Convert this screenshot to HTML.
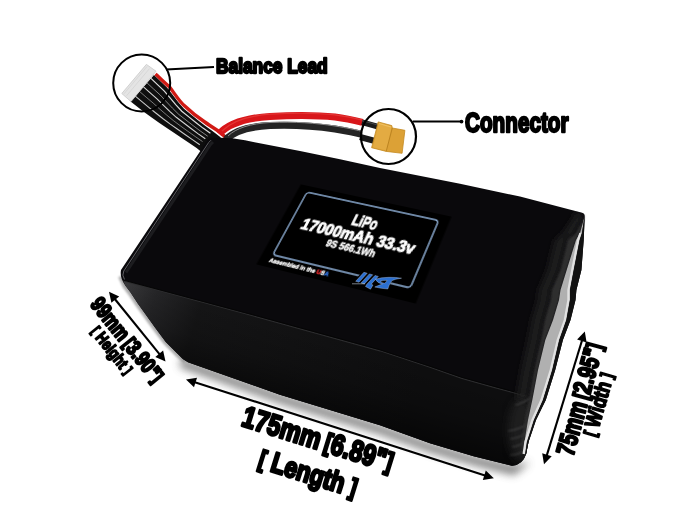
<!DOCTYPE html>
<html><head><meta charset="utf-8"><style>
html,body{margin:0;padding:0;background:#fff;width:686px;height:511px;overflow:hidden;}
#wrap{position:relative;width:686px;height:511px;}
svg{position:absolute;left:0;top:0;display:block;}
.lbl{position:absolute;left:0;top:0;width:140px;height:72px;transform-origin:0 0;font-family:"Liberation Sans",sans-serif;font-weight:bold;color:#fff;}
</style></head><body><div id="wrap">
<svg width="686" height="511" viewBox="0 0 686 511">
<defs>
<filter id="blur4" x="-20%" y="-20%" width="140%" height="140%"><feGaussianBlur stdDeviation="4"/></filter>
<filter id="blur3" x="-50%" y="-20%" width="200%" height="140%"><feGaussianBlur stdDeviation="3"/></filter>
<filter id="blur1" x="-20%" y="-20%" width="140%" height="140%"><feGaussianBlur stdDeviation="1"/></filter>
<linearGradient id="gB" x1="125" y1="290" x2="420" y2="375" gradientUnits="userSpaceOnUse">
<stop offset="0" stop-color="#38383a"/><stop offset="0.1" stop-color="#252527"/><stop offset="0.25" stop-color="#151516"/><stop offset="1" stop-color="#0e0e0f"/>
</linearGradient>
<linearGradient id="gL" x1="0" y1="0" x2="1" y2="0"><stop offset="0" stop-color="#8a8a8a"/><stop offset="0.6" stop-color="#c8c8c8"/><stop offset="1" stop-color="#e4e4e4"/></linearGradient>
<clipPath id="clipSil"><path d="M212,138 Q228,137 245,140.2 L254.5,142.3 L300,151 L340,159.2 L380,168 L460,183.8 L520,196.6 L582,212.8 Q585.5,213.6 584.6,219 L584.0,233.0 L583.7,240.0 L581.4,270.0 L576.4,290.0 L575.5,300.0 L570.5,320.0 L562.9,340.0 L555.2,370.0 L545.8,400.0 L536.0,420.0 L528.5,442.0 L526.2,454.0 Q522.5,465 512,465.8 L473.7,456.3 L430,443.2 L380,425.2 L280,394.7 L188,362.2 Q182.5,359.5 178.1,354.2 L165.8,341.9 L155.2,327.8 L146.4,315.5 L137.6,303.2 L130.6,292.6 L125.3,285.6 Q119.5,277.5 121,270 L207,141 Q209,137 212,138 Z"/></clipPath>
<linearGradient id="gBv" x1="300" y1="333" x2="281" y2="398" gradientUnits="userSpaceOnUse"><stop offset="0" stop-color="#000" stop-opacity="0"/><stop offset="0.5" stop-color="#000" stop-opacity="0.15"/><stop offset="1" stop-color="#000" stop-opacity="0.5"/></linearGradient>
</defs>
<!-- shadow -->
<path d="M180,367 L280,403 L380,434 L430,452 L474,465 L514,475 L530,462 L512,465 L474,456 L430,443 L380,425 L280,394 L181,358 Z" fill="#666" filter="url(#blur4)" opacity="0.85"/>

<path d="M121,276 L125.3,285.6 L130.6,292.6 L137.6,303.2 L146.4,315.5 L155.2,327.8 L165.8,341.9 L178.1,354.2 L186,361" fill="none" stroke="#8a8a8a" stroke-width="6" filter="url(#blur1)" opacity="0.7"/>
<!-- balance lead wires -->
<path d="M154.0,75.0 L160.5,81.3 L167.0,87.6 L172.6,94.7 L178.1,101.9 L184.0,108.7 L191.0,114.5 L198.0,120.2 L205.1,125.8 L212.4,131.1 L219.6,136.6 L226.0,143.0 L210.0,160.0 L203.6,153.7 L196.6,148.1 L189.2,143.0 L181.7,138.0 L174.3,133.0 L166.8,127.9 L159.4,122.9 L152.0,117.8 L144.7,112.6 L137.6,107.1 L130.6,101.4 Z" fill="#0e0e0e"/>
<g fill="none" stroke="#e8e8e8">
<path d="M151.0,78.4 L157.5,84.6 L164.1,90.8 L169.9,97.7 L175.7,104.6 L181.8,111.2 L188.8,116.9 L195.8,122.5 L203.0,128.1 L210.4,133.3" stroke-opacity="0.95" stroke-width="1.2"/>
<path d="M147.0,82.9 L153.6,89.0 L160.3,95.1 L166.4,101.7 L172.5,108.2 L178.9,114.5 L186.0,120.0 L193.1,125.6 L200.3,131.0 L207.7,136.2" stroke-opacity="0.6" stroke-width="0.9"/>
<path d="M143.5,86.9 L150.2,92.9 L157.0,98.8 L163.3,105.1 L169.7,111.3 L176.3,117.3 L183.5,122.8 L190.7,128.2 L197.9,133.6 L205.3,138.7" stroke-opacity="0.9" stroke-width="1.1"/>
<path d="M139.5,91.4 L146.3,97.3 L153.2,103.1 L159.8,109.1 L166.5,114.9 L173.4,120.6 L180.6,126.0 L187.9,131.3 L195.2,136.5 L202.6,141.6" stroke-opacity="0.55" stroke-width="0.9"/>
<path d="M135.3,96.1 L142.2,101.9 L149.1,107.6 L156.1,113.2 L163.1,118.7 L170.3,124.1 L177.6,129.3 L185.0,134.5 L192.4,139.6 L199.8,144.7" stroke-opacity="0.85" stroke-width="1.1"/>
</g>
<path d="M155.5,74 C161,79 166,84 169.2,86.5 C175,94 179,101 184.2,105.5 C191,112 198,117.5 204.8,122 C211,126.5 217,130 221.2,133 L228,140" fill="none" stroke="#d01a14" stroke-width="3.4"/>
<!-- plug -->
<polygon points="121.8,93.5 146.4,64.4 156,71.2 131,101.6" fill="#e4e4e4" stroke="#c8c8c8" stroke-width="0.8"/>
<path d="M124,93.8 L147,66.6 M126.5,95.8 L149.5,68.6" stroke="#cfcfcf" stroke-width="0.6" fill="none"/>

<!-- power wires -->
<path d="M219,134 C228,124 245,118 270,116.4 C295,115 315,114.8 335,117 C347,118.5 355,120.5 362.5,122.4" fill="none" stroke="#d8161a" stroke-width="7"/>
<path d="M222,131 C231,122 247,116 270,114.2 C295,112.8 315,112.6 335,114.8 C347,116.3 355,118.3 362.5,120.2" fill="none" stroke="#ec4a44" stroke-width="1.2" stroke-opacity="0.6"/>
<path d="M226,139.5 C234,131 250,126.5 270,125.5 C295,124.5 315,126 335,129 C347,131 355,132.5 361,134.2" fill="none" stroke="#242424" stroke-width="7"/>
<path d="M228,136 C236,128 251,123.5 270,122.5 C295,121.5 315,123 335,126 C347,128 355,129.5 361,131.2" fill="none" stroke="#8a8a8a" stroke-width="1"/>

<!-- battery silhouette -->
<path id="sil" d="M212,138 Q228,137 245,140.2 L254.5,142.3 L300,151 L340,159.2 L380,168 L460,183.8 L520,196.6 L582,212.8 Q585.5,213.6 584.6,219 L584.0,233.0 L583.7,240.0 L581.4,270.0 L576.4,290.0 L575.5,300.0 L570.5,320.0 L562.9,340.0 L555.2,370.0 L545.8,400.0 L536.0,420.0 L528.5,442.0 L526.2,454.0 Q522.5,465 512,465.8 L473.7,456.3 L430,443.2 L380,425.2 L280,394.7 L188,362.2 Q182.5,359.5 178.1,354.2 L165.8,341.9 L155.2,327.8 L146.4,315.5 L137.6,303.2 L130.6,292.6 L125.3,285.6 Q119.5,277.5 121,270 L207,141 Q209,137 212,138 Z" fill="#0a090c"/>
<!-- left edge rim highlight -->
<path d="M211,140.2 L208.6,142.6 L123.8,271 Q121.6,275 124.5,279.5" fill="none" stroke="#606064" stroke-width="1"/>
<path d="M213,142 L210.5,144.5 L126,272.5" fill="none" stroke="#1c1c1f" stroke-width="3"/>
<!-- face B (front) -->
<path d="M123,280 L250,314 L380,349.8 L430,366.2 L462,377.4 L494,386.3 L526.2,395.1 L529,397 L528.5,442 L526,454 Q522.5,465 512,465.8 L473.7,456.3 L430,443.2 L380,425.2 L280,394.7 L188,362.2 Q182.5,359.5 178.1,354.2 L165.8,341.9 L155.2,327.8 L146.4,315.5 L137.6,303.2 L130.6,292.6 L125.3,285.6 Z" fill="url(#gB)"/>
<path d="M123,280 L250,314 L380,349.8 L430,366.2 L462,377.4 L494,386.3 L526.2,395.1 L529,397 L528.5,442 L526,454 Q522.5,465 512,465.8 L473.7,456.3 L430,443.2 L380,425.2 L280,394.7 L188,362.2 Q182.5,359.5 178.1,354.2 L165.8,341.9 L155.2,327.8 L146.4,315.5 L137.6,303.2 L130.6,292.6 L125.3,285.6 Z" fill="url(#gBv)"/>
<path d="M123.5,281 L250,315 L380,350.8 L430,367.2 L462,378.4 L494,387.3 L526.2,396.1" fill="none" stroke="#2c2c2e" stroke-width="1.2"/>
<path d="M123,280 L250,314 L380,349.8 L430,366.2 L462,377.4 L494,386.3 L526.2,395.1" fill="none" stroke="#050505" stroke-width="1"/>
<g clip-path="url(#clipSil)"><polygon points="584.0,214.0 582.4,219.0 575.0,233.0 566.7,240.0 559.3,270.0 550.7,290.0 549.5,300.0 543.7,320.0 539.9,340.0 533.2,370.0 527.8,400.0 515.8,400.0 521.2,370.0 527.9,340.0 531.7,320.0 537.5,300.0 538.7,290.0 547.3,270.0 554.7,240.0 563.0,233.0 573.0,218.0 575.0,212.0" fill="#1a1a1c" filter="url(#blur3)"/></g>
<g clip-path="url(#clipSil)">
<ellipse cx="522" cy="430" rx="14" ry="32" fill="#2a2a2a" opacity="0.6" filter="url(#blur4)"/>
<g fill="none" stroke="#6a6a6a" stroke-width="1.2" opacity="0.55" filter="url(#blur1)">
<path d="M508,431 Q518,430 528,424"/>
<path d="M510,439 Q519,438 527,433"/>
<path d="M512,447 Q520,446 526,441"/>
<path d="M510,455 Q518,455 524,451"/>
<path d="M515,405 Q522,404 530,398"/>
</g>
</g>
<!-- end face bands -->
<polygon points="585.0,214.0 583.4,219.0 576.0,233.0 567.7,240.0 560.3,270.0 551.7,290.0 550.5,300.0 544.7,320.0 540.9,340.0 534.2,370.0 528.8,400.0 525.0,420.0 521.5,442.0 522.2,454.0 523.7,454.0 524.5,442.0 528.0,420.0 532.3,400.0 538.0,370.0 545.3,340.0 553.0,320.0 559.0,300.0 560.5,290.0 566.7,270.0 576.0,240.0 580.0,233.0 583.9,219.0 585.0,214.0" fill="#2e2e2f" filter="url(#blur1)"/>
<polygon points="585.0,214.0 583.9,219.0 580.0,233.0 576.0,240.0 566.7,270.0 560.5,290.0 559.0,300.0 553.0,320.0 545.3,340.0 538.0,370.0 532.3,400.0 528.0,420.0 524.5,442.0 523.7,454.0 525.2,454.0 527.0,442.0 534.0,420.0 543.0,400.0 552.3,370.0 559.3,340.0 566.4,320.0 570.0,300.0 570.0,290.0 573.8,270.0 579.7,240.0 582.0,233.0 584.2,219.0 585.0,214.0" fill="#b0b0b0"/>
<polyline points="580.4,233.0 578.1,240.0 572.2,270.0 568.4,290.0 568.4,300.0 564.8,320.0 557.7,340.0 550.7,370.0 541.4,400.0 532.4,420.0 525.4,442.0 523.6,454.0" fill="none" stroke="#e2e2e2" stroke-width="2.2"/>
<polygon points="585.0,214.0 584.2,219.0 582.0,233.0 579.7,240.0 573.8,270.0 570.0,290.0 570.0,300.0 566.4,320.0 559.3,340.0 552.3,370.0 543.0,400.0 534.0,420.0 527.0,442.0 525.2,454.0 526.2,454.0 528.5,442.0 536.0,420.0 545.8,400.0 555.2,370.0 562.9,340.0 570.5,320.0 575.5,300.0 576.4,290.0 581.4,270.0 583.7,240.0 584.0,233.0 584.6,219.0 585.0,214.0" fill="#121212"/>
</svg>

<div class="lbl" style="transform:matrix3d(0.798414,0.131334,0.000000,-0.000324,-0.674288,0.685924,0.000000,-0.000726,0.000000,0.000000,1.000000,0.000000,307.000000,192.100000,0.000000,1.000000)">
<svg width="140" height="72" viewBox="0 0 140 72" style="overflow:visible;position:absolute;left:0;top:0;font-family:'Liberation Sans',sans-serif;font-weight:bold;">
<rect x="-10.5" y="-7" width="161" height="92" fill="#000"/>
<rect x="0" y="0" width="140" height="72" rx="3.5" fill="none" stroke="#93b4dc" stroke-width="1.4"/>
<g fill="#fff" stroke="#fff" stroke-linejoin="round">
<text transform="translate(58.8,24) scale(0.7,1)" font-size="17" stroke-width="1.1">LiPo</text>
<text transform="translate(12,39.8) scale(0.885,1)" font-size="17" stroke-width="1.1">17000mAh 33.3v</text>
<text transform="translate(44.8,51.2) scale(0.85,1)" font-size="10.6" stroke-width="0.6">9S 566.1Wh</text>
<text transform="translate(-0.3,79.6) scale(0.5,0.5)" font-size="11.6" stroke-width="0.9"><tspan>Assembled in the </tspan><tspan fill="#e8262a" stroke="#e8262a">U</tspan><tspan>S</tspan><tspan fill="#2f6fd8" stroke="#2f6fd8">A</tspan></text>
</g>
</svg>
</div>

<svg width="686" height="511" viewBox="0 0 686 511" style="font-family:'Liberation Sans',sans-serif;font-weight:bold;">
<!-- logo -->
<g stroke="#000" stroke-width="2.2" stroke-linejoin="round" fill="#000">
<path d="M353,283.5 L364,271.8 L403,277 L397,279.5 L390,281.5 L386.5,289 L375,288.5 L360,284.5 Z"/>
</g>
<g fill="#2b6fd0" stroke="#b8c4d8" stroke-width="0.4" stroke-linejoin="round">
<polygon points="355.7,281.3 363.9,272.3 367.2,273.2 359,282.2"/>
<polygon points="361.1,283 369.4,273.9 372.7,274.8 364.4,283.9"/>
<polygon points="366.6,284.6 375,275.5 378.3,276.4 371.2,284.2 373,285 370.5,289.2 365.5,286.5"/>
<path d="M375.2,279.2 Q381,277.4 389,277.3 Q396,277.2 401.5,278.2 Q395,279 392,280.6 Q390.5,283 389.2,285 L387.8,289 Q381,288.5 374.8,287 Q379,285.2 382.5,284 Q378,283.6 375.2,279.2 Z M380.4,281.2 Q383,280.2 387,280.4 Q386,282.5 384.5,283.3 Q381.5,283 380.4,281.2 Z" fill-rule="evenodd"/>
</g>
<line x1="352" y1="283.8" x2="365" y2="283.8" stroke="#c8d0dc" stroke-width="0.6"/>
<!-- XT60 -->
<path d="M362,122.2 L380,127.2" stroke="#1a1a1a" stroke-width="5.6"/>
<path d="M360,137 L375,141" stroke="#1a1a1a" stroke-width="6.4"/>
<path d="M362,120.6 L380,125.6" stroke="#555" stroke-width="0.8"/>
<path d="M378.2,121.9 L391.8,125.6 L392.3,128 L404.9,130.3 L402.1,153.3 L386.2,151.4 L371.6,147.7 Z" fill="#dca136" stroke="#c48a22" stroke-width="0.8"/>
<path d="M379,123 L391.5,126.5 L386.5,150.5 L373,147.2 Z" fill="#e3ab42"/>
<path d="M392.3,128 L386.2,151.4" stroke="#b8801e" stroke-width="0.9"/>
<path d="M379,123.5 L391,127" stroke="#f0c060" stroke-width="1.2"/>

<!-- callout circles -->
<circle cx="141.7" cy="83" r="28.5" fill="none" stroke="#000" stroke-width="2"/>
<line x1="166" y1="69.4" x2="214" y2="67" stroke="#000" stroke-width="2"/>
<circle cx="388.5" cy="136.5" r="27.5" fill="none" stroke="#000" stroke-width="2.2"/>
<line x1="413" y1="121.6" x2="462" y2="121.6" stroke="#000" stroke-width="2"/>
<circle cx="461.5" cy="121.6" r="1.9" fill="#000"/>
<text x="216" y="73.4" font-size="20.5" transform="translate(216,0) scale(0.845,1) translate(-216,0)" stroke="#000" stroke-width="2.3" stroke-linejoin="round">Balance Lead</text>
<text x="465" y="132" font-size="28" transform="translate(465,0) scale(0.74,1) translate(-465,0)" stroke="#000" stroke-width="2.4" stroke-linejoin="round">Connector</text>

<!-- arrows -->
<g stroke="#000" stroke-width="2.1">
<line x1="112.8" y1="296.5" x2="161.7" y2="356.8"/>
<line x1="191.7" y1="381.2" x2="488.1" y2="476.4"/>
<line x1="583.0" y1="337.2" x2="545.8" y2="458.6"/>
</g>
<g fill="#000">
<polygon points="109.0,291.8 111.4,302.7 119.2,296.4"/>
<polygon points="165.5,361.5 163.1,350.6 155.3,356.9"/>
<polygon points="186.0,379.4 194.0,387.2 197.0,377.7"/>
<polygon points="493.8,478.2 485.8,470.4 482.8,479.9"/>
<polygon points="584.8,331.5 577.1,339.6 586.6,342.5"/>
<polygon points="544.0,464.3 551.7,456.2 542.2,453.3"/>
</g>
<g stroke="#000" stroke-linejoin="round">
<text font-size="21.8" transform="translate(89.6,304.6) rotate(51.3) scale(0.77,1)" stroke-width="2.2">99mm<tspan dx="4.2" font-size="18.5" baseline-shift="1.2">[</tspan>3.90"<tspan font-size="18.5" baseline-shift="1.2">]</tspan></text>
<text font-size="16.5" transform="translate(90.2,332) rotate(51.5) scale(0.8,1)" stroke-width="1.7"><tspan font-size="13.5" baseline-shift="0.8">[</tspan> Height <tspan font-size="13.5" baseline-shift="0.8">]</tspan></text>
<text font-size="29.5" transform="translate(240.2,425.3) rotate(17.3) scale(0.8,1)" stroke-width="2.7">175mm<tspan dx="6" font-size="25" baseline-shift="1.5">[</tspan>6.89"<tspan font-size="25" baseline-shift="1.5">]</tspan></text>
<text font-size="28.5" transform="translate(257,467) rotate(17.3) scale(0.8,1)" stroke-width="2.7"><tspan font-size="24" baseline-shift="1.5">[</tspan> Length <tspan font-size="24" baseline-shift="1.5">]</tspan></text>
<text font-size="25.5" transform="translate(573,457) rotate(-74.8) scale(0.745,1)" stroke-width="2.3">75mm<tspan dx="5" font-size="21.5" baseline-shift="1.3">[</tspan>2.95"<tspan font-size="21.5" baseline-shift="1.3">]</tspan></text>
<text font-size="21" transform="translate(596,437.5) rotate(-74) scale(0.8,1)" stroke-width="1.8"><tspan font-size="17" baseline-shift="1">[</tspan> Width <tspan font-size="17" baseline-shift="1">]</tspan></text>
</g>
</svg>
</div></body></html>
